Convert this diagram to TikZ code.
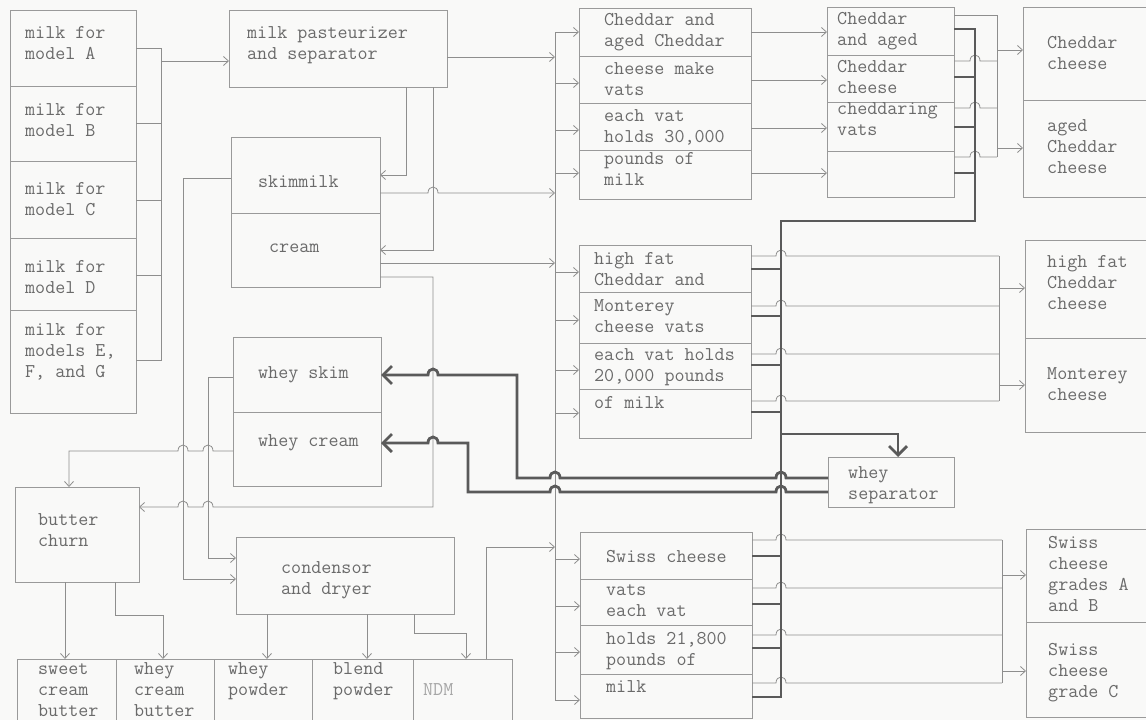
\documentclass[tikz,border=0pt]{standalone}
\usepackage{fontspec}
\usetikzlibrary{arrows.meta}
\definecolor{bgc}{HTML}{F9F9F8}
\definecolor{linec}{HTML}{8E8E8E}
\definecolor{boxc}{HTML}{9A9A9A}
\definecolor{txtc}{HTML}{6A6A6A}
\definecolor{thkc}{HTML}{5A5A5A}
\newcommand\tl[1]{\begin{tabular}[t]{@{}l@{}}#1\end{tabular}}
\newcommand\tlc[3]{\vtop{\hbox{#1}\hbox{#2}\hbox{#3}}}
\newcommand\tlb[2]{\vtop{\hbox{#1}\hbox{#2}}}
\newcommand\bx[5]{\node[bx, minimum width={(#4-#2)*1pt}, minimum height={(#5-#3)*1pt}] (#1) at ({(#2+#4)/2},{(#3+#5)/2}) {};}
\newcommand\hr[2]{-- ({#1-5},#2) .. controls ({#1-5},{#2-8}) and ({#1+5},{#2-8}) .. ({#1+5},#2)}
\newcommand\hl[2]{-- ({#1+5},#2) .. controls ({#1+5},{#2-8}) and ({#1-5},{#2-8}) .. ({#1-5},#2)}
\begin{document}
\begin{tikzpicture}[x=1pt,y=-1pt,
  bx/.style={draw=boxc, line width=0.8pt, inner sep=0pt, outer sep=0pt, rectangle},
  txt/.style={text=txtc, inner sep=0pt, anchor=base west, font=\ttfamily\fontsize{19.5}{21.3}\selectfont},
  ln/.style={draw=linec, line width=0.8pt},
  arr/.style={ln, -{Straight Barb[length=5pt,width=9pt]}},
  thk/.style={draw=thkc, line width=2.8pt, line join=miter},
  tarr/.style={thk, -{Straight Barb[length=9pt,width=18pt]}},
]
\useasboundingbox (0,0) rectangle (1146,720);
\clip (0,0) rectangle (1146,720);
\fill[bgc] (0,0) rectangle (1146,720);
% ---------- boxes
\bx{milkA}{10}{10}{136}{86}
\bx{milkB}{10}{86}{136}{161}
\bx{milkC}{10}{161}{136}{238}
\bx{milkD}{10}{238}{136}{310}
\bx{milkE}{10}{310}{136}{413}
\bx{past}{229}{10}{447}{87}
\bx{skim}{231}{137}{380}{213}
\bx{cream}{231}{213}{380}{287}
\bx{wskim}{233}{337}{381}{412}
\bx{wcream}{233}{412}{381}{486}
\bx{churn}{15}{487}{139}{582}
\bx{cond}{236}{537}{454}{614}
\bx{bA}{17}{659}{116}{730}
\bx{bB}{116}{659}{214}{730}
\bx{bC}{214}{659}{312}{730}
\bx{bD}{312}{659}{413}{730}
\bx{bE}{413}{659}{512}{730}
\bx{chA}{579}{8}{751}{56}
\bx{chB}{579}{56}{751}{103}
\bx{chC}{579}{103}{751}{150}
\bx{chD}{579}{150}{751}{199}
\bx{cdA}{827}{7}{954}{55}
\bx{cdB}{827}{55}{954}{102}
\bx{cdC}{827}{102}{954}{151}
\bx{cdD}{827}{151}{954}{197}
\bx{cpA}{1023}{7}{1152}{100}
\bx{cpB}{1023}{100}{1152}{197}
\bx{hfA}{579}{245}{751}{292}
\bx{hfB}{579}{292}{751}{343}
\bx{hfC}{579}{343}{751}{389}
\bx{hfD}{579}{389}{751}{438}
\bx{hpA}{1025}{240}{1152}{338}
\bx{hpB}{1025}{338}{1152}{432}
\bx{sep}{828}{457}{954}{507}
\bx{swA}{580}{532}{752}{579}
\bx{swB}{580}{579}{752}{625}
\bx{swC}{580}{625}{752}{674}
\bx{swD}{580}{674}{752}{718}
\bx{spA}{1026}{529}{1152}{622}
\bx{spB}{1026}{622}{1152}{717}
% ---------- texts
\node[txt] (tA) at (25,38) {\tl{milk for\\model A}};
\node[txt] (tB) at (25,115) {\tl{milk for\\model B}};
\node[txt] (tC) at (25,194) {\tl{milk for\\model C}};
\node[txt] (tD) at (25,272) {\tl{milk for\\model D}};
\node[txt] (tE) at (25,335) {\tl{milk for\\models E,\\F, and G}};
\node[txt] (tP) at (247,38) {\tl{milk pasteurizer\\and separator}};
\node[txt] (tS) at (258,187) {skimmilk};
\node[txt] (tCr) at (269,252) {cream};
\node[txt] (tWS) at (258,378) {whey skim};
\node[txt] (tWC) at (258,446) {whey cream};
\node[txt] (tCh) at (38,525) {\tl{butter\\churn}};
\node[txt] (tCo) at (281,573) {\tl{condensor\\and dryer}};
\node[txt] (tb1) at (38,674) {\tlc{sweet}{cream}{butter}};
\node[txt] (tb2) at (134,674) {\tlc{whey}{cream}{butter}};
\node[txt] (tb3) at (228,674) {\tlb{whey}{powder}};
\node[txt] (tb4) at (333,674) {\tlb{blend}{powder}};
\node[txt, text=black!35] (tb5) at (423,695) {NDM};
\node[txt] (tch1) at (604,25) {\tl{Cheddar and\\aged Cheddar}};
\node[txt] (tch2) at (604,74) {\tl{cheese make\\vats}};
\node[txt] (tch3) at (604,121) {\tl{each vat\\holds 30,000}};
\node[txt] (tch4) at (604,164) {\tl{pounds of\\milk}};
\node[txt] (tcd1) at (837,24) {\tl{Cheddar\\and aged}};
\node[txt] (tcd2) at (837,72) {\tl{Cheddar\\cheese}};
\node[txt] (tcd3) at (837,114) {\tl{cheddaring\\vats}};
\node[txt] (tcp1) at (1047,48) {\tl{Cheddar\\cheese}};
\node[txt] (tcp2) at (1047,131) {\tl{aged\\Cheddar\\cheese}};
\node[txt] (thf1) at (594,264) {\tl{high fat\\Cheddar and}};
\node[txt] (thf2) at (594,311) {\tl{Monterey\\cheese vats}};
\node[txt] (thf3) at (594,360) {\tl{each vat holds\\20,000 pounds}};
\node[txt] (thf4) at (594,408) {of milk};
\node[txt] (thp1) at (1047,267) {\tl{high fat\\Cheddar\\cheese}};
\node[txt] (thp2) at (1047,379) {\tl{Monterey\\cheese}};
\node[txt] (tsep) at (848,478) {\tl{whey\\separator}};
\node[txt] (tsw1) at (606,562) {Swiss cheese};
\node[txt] (tsw2) at (606,595) {\tl{vats\\each vat}};
\node[txt] (tsw3) at (606,644) {\tl{holds 21,800\\pounds of}};
\node[txt] (tsw4) at (606,692) {milk};
\node[txt] (tsp1) at (1048,548) {\tl{Swiss\\cheese\\grades A\\and B}};
\node[txt] (tsp2) at (1048,655) {\tlc{Swiss}{cheese}{grade C}};
% ---------- helper coordinates
\coordinate (bus) at (555,0);
\coordinate (cv) at (997,0);
\coordinate (hv) at (999,0);
\coordinate (sv) at (1002,0);
% ---------- thin connectors, left part
\draw[ln] (milkA.east|-0,48) -- (161,48) -- (161,360) -- (milkE.east|-0,360);
\draw[ln] (milkB.east|-0,123) -- (161,123);
\draw[ln] (milkC.east|-0,200) -- (161,200);
\draw[ln] (milkD.east|-0,275) -- (161,275);
\draw[arr] (161,61) -- (past.west|-0,61);
\draw[arr] (past.south-|406,0) -- (406,175) -- (skim.east|-0,175);
\draw[arr] (past.south-|433,0) -- (433,250) -- (cream.east|-0,250);
\draw[arr] (past.east|-0,57) -- (bus|-0,57);
\draw[arr] (skim.east|-0,193) \hr{433}{193} -- (bus|-0,193);
\draw[arr] (cream.east|-0,263) -- (bus|-0,263);
\draw[arr] (cream.east|-0,277) -- (433,277) -- (433,507) \hl{208}{507} \hl{183}{507} -- (churn.east|-0,507);
\draw[arr] (skim.west|-0,178) -- (183,178) -- (183,579) -- (cond.west|-0,579);
\draw[arr] (wskim.west|-0,377) -- (208,377) -- (208,558) -- (cond.west|-0,558);
\draw[arr] (wcream.west|-0,451) \hl{208}{451} \hl{183}{451} -- (69,451) -- (churn.north-|69,0);
\draw[arr] (churn.south-|65,0) -- (bA.north-|65,0);
\draw[arr] (churn.south-|115,0) -- (115,615) -- (163,615) -- (bB.north-|163,0);
\draw[arr] (cond.south-|267,0) -- (bC.north-|267,0);
\draw[arr] (cond.south-|367,0) -- (bD.north-|367,0);
\draw[arr] (cond.south-|414,0) -- (414,633) -- (466,633) -- (bE.north-|466,0);
\draw[arr] (bE.north-|486,0) -- (486,547) -- (bus|-0,547);
% ---------- milk bus to vats
\draw[ln] (bus|-0,32) -- (bus|-0,700);
\foreach \n/\y in {chA/32,chB/83,chC/130,chD/173,hfA/272,hfB/320,hfC/370,hfD/413,swA/559,swB/606,swC/652,swD/700}
  \draw[arr] (bus|-0,\y) -- (\n.west|-0,\y);
\foreach \a/\b/\y in {chA/cdA/32,chB/cdB/80,chC/cdC/128,chD/cdD/173}
  \draw[arr] (\a.east|-0,\y) -- (\b.west|-0,\y);
% ---------- products
\draw[ln] (cdA.east|-0,15) -- (cv|-0,15) -- (cv|-0,157);
\foreach \n/\y in {cdB/61,cdC/108,cdD/157}
  \draw[ln] (\n.east|-0,\y) \hr{975}{\y} -- (cv|-0,\y);
\draw[arr] (cv|-0,50) -- (cpA.west|-0,50);
\draw[arr] (cv|-0,148) -- (cpB.west|-0,148);
\foreach \n/\y in {hfA/256,hfB/306,hfC/354,hfD/401}
  \draw[ln] (\n.east|-0,\y) \hr{781}{\y} -- (hv|-0,\y);
\draw[ln] (hv|-0,256) -- (hv|-0,401);
\draw[arr] (hv|-0,288) -- (hpA.west|-0,288);
\draw[arr] (hv|-0,385) -- (hpB.west|-0,385);
\foreach \n/\y in {swA/540,swB/588,swC/635,swD/683}
  \draw[ln] (\n.east|-0,\y) \hr{781}{\y} -- (sv|-0,\y);
\draw[ln] (sv|-0,540) -- (sv|-0,683);
\draw[arr] (sv|-0,575) -- (spA.west|-0,575);
\draw[arr] (sv|-0,671) -- (spB.west|-0,671);
% ---------- whey (thick)
\draw[thk] (cdA.east|-0,29) -- (975,29) -- (975,221) -- (781,221) -- (781,697) -- (swD.east|-0,697);
\foreach \n/\y in {cdB/77,cdC/127,cdD/173}
  \draw[thk] (\n.east|-0,\y) -- (975,\y);
\foreach \n/\y in {hfA/269,hfB/316,hfC/365,hfD/412,swA/556,swB/604,swC/648}
  \draw[thk] (\n.east|-0,\y) -- (781,\y);
\draw[tarr] (781,434) -- (898,434) -- (sep.north-|898,0);
\draw[tarr] (sep.west|-0,478) \hl{781}{478} \hl{555}{478} -- (517,478) -- (517,375) \hl{433}{375} -- (wskim.east|-0,375);
\draw[tarr] (sep.west|-0,492) \hl{781}{492} \hl{555}{492} -- (468,492) -- (468,443) \hl{433}{443} -- (wcream.east|-0,443);
\end{tikzpicture}
\end{document}
